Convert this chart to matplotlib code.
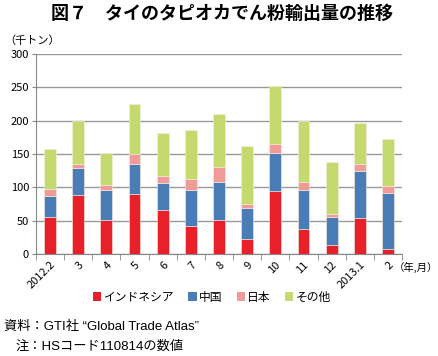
import matplotlib
matplotlib.use("Agg")
import matplotlib.pyplot as plt
from matplotlib.patches import Patch
import numpy as np

plt.rcParams['font.family'] = ['Noto Sans CJK JP', 'DejaVu Sans']
MIX = ['Liberation Sans', 'Noto Sans CJK JP']

categories = ["2012.2", "3", "4", "5", "6", "7", "8", "9", "10", "11", "12", "2013.1", "2"]
indonesia = [55, 88.5, 50.5, 90.5, 66, 42, 51, 22, 94, 37, 13, 54.5, 7]
china = [32, 41, 45.5, 45, 41, 54.5, 57, 47.5, 57.5, 58.5, 42, 70, 85]
japan = [11, 6, 8, 14.5, 10.5, 16, 22.5, 6, 14, 13, 5.5, 11, 10.5]
other = [60, 64, 48, 75, 63.5, 73.5, 80, 86.5, 86.5, 91, 77.5, 61, 70.5]
series_names = ["インドネシア", "中国", "日本", "その他"]
colors = ["#E8202A", "#4A7DB5", "#F09A9A", "#C5DA6E"]

fig = plt.figure(figsize=(4.39, 3.56), dpi=100)
ax = fig.add_axes([36/439, 1-254/356, 366/439, 200/356])

x = np.arange(len(categories))
bottom = np.zeros(len(categories))
for vals, c in zip([indonesia, china, japan, other], colors):
    ax.bar(x, vals, width=0.42, bottom=bottom, color=c, edgecolor="#f4eee0", linewidth=0.4, zorder=3)
    bottom += np.array(vals)

ax.set_xlim(-0.5, len(categories) - 0.5)
ax.set_ylim(0, 300)
ax.set_yticks(range(0, 301, 50))
ax.tick_params(axis='y', labelsize=8, length=3, color="#888888", pad=2)
ax.yaxis.grid(True, color="#999999", linewidth=1.0, zorder=0)
ax.set_axisbelow(True)

ax.set_xticks(x)
ax.set_xticklabels(categories, rotation=45, ha='right', rotation_mode='anchor', fontsize=8)
ax.tick_params(axis='x', length=0, pad=4)
ax.set_xticks(np.arange(-0.5, len(categories), 1), minor=True)
ax.tick_params(axis='x', which='minor', length=4, color="#888888")

for s in ['top', 'right']:
    ax.spines[s].set_visible(False)
ax.spines['left'].set_color("#888888")
ax.spines['bottom'].set_color("#888888")

fig.text(222/439, 1-13/356, "図７　タイのタピオカでん粉輸出量の推移", ha='center', va='center',
         fontsize=13, fontweight='bold')
fig.text(4/439, 1-41/356, "（千トン）", ha='left', va='center', fontsize=8)
fig.text(438/439, 1-267/356, "（年,月）", ha='right', va='center', fontsize=7.5)

handles = [Patch(facecolor=c, edgecolor='none') for c in colors]
fig.legend(handles, series_names, loc='center', bbox_to_anchor=(212/439, 1-297/356), ncol=4,
           frameon=False, fontsize=8.5, handlelength=0.7, handleheight=0.7, handletextpad=0.2,
           columnspacing=1.2)

fig.text(4/439, 1-327/356, "資料：GTI社 “Global Trade Atlas”", ha='left', va='center',
         fontsize=9.5, family=MIX)
fig.text(16/439, 1-347/356, "注：HSコード110814の数値", ha='left', va='center',
         fontsize=9.5, family=MIX)

fig.savefig("out.png", dpi=100)
